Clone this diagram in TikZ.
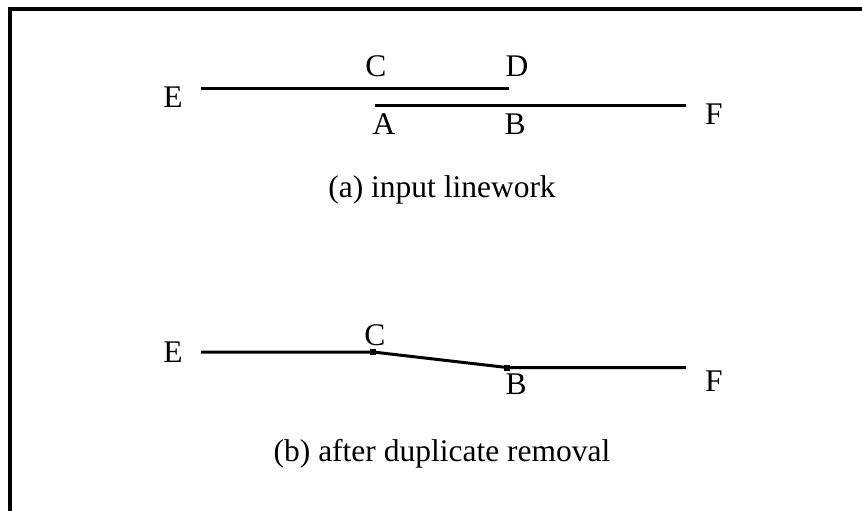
\documentclass[tikz,border=0pt]{standalone}
\usepackage{fontspec}
\setmainfont{Liberation Serif}
\usepackage{tikz}
\usetikzlibrary{positioning}

\begin{document}
\begin{tikzpicture}[
    x=1pt, y=-1pt,
    every node/.style={font=\fontsize{31.5}{36}\selectfont, inner sep=0pt},
    seg/.style={line width=3pt, line cap=butt},
    frame/.style={line width=4pt},
    vertex/.style={rectangle, fill=black, minimum size=6pt, inner sep=0pt},
    caption/.style={anchor=base}
]
\useasboundingbox (0,0) rectangle (862,511);

% frame
\draw[frame] (10,511) -- (10,9) -- (862,9);

% (a) input linework
\coordinate (aE) at (201,88);
\coordinate (aD) at (509,88);
\coordinate (aA) at (375,105);
\coordinate (aF) at (686,105);
\draw[seg] (aE) -- (aD);
\draw[seg] (aA) -- (aF);

\node (lE) at (173,97) {E};
\node (lC) at (376,66) {C};
\node (lD) at (517,66) {D};
\node (lA) at (384,124) {A};
\node (lB) at (515,124) {B};
\node (lF) at (714,114) {F};
\node[caption] (capa) at (442,197) {(a) input linework};

% (b) after duplicate removal
\coordinate (bE) at (201,352);
\node[vertex] (bC) at (373,352) {};
\node[vertex] (bB) at (507,367.5) {};
\coordinate (bF) at (686,367.5);
\draw[seg] (bE) -- (bC.center) -- (bB.center) -- (bF);

\node (mE) at (173,352.5) {E};
\node (mC) at (375,335) {C};
\node (mB) at (516,384) {B};
\node (mF) at (714,381) {F};
\node[caption] (capb) at (442,461) {(b) after duplicate removal};

\end{tikzpicture}
\end{document}
